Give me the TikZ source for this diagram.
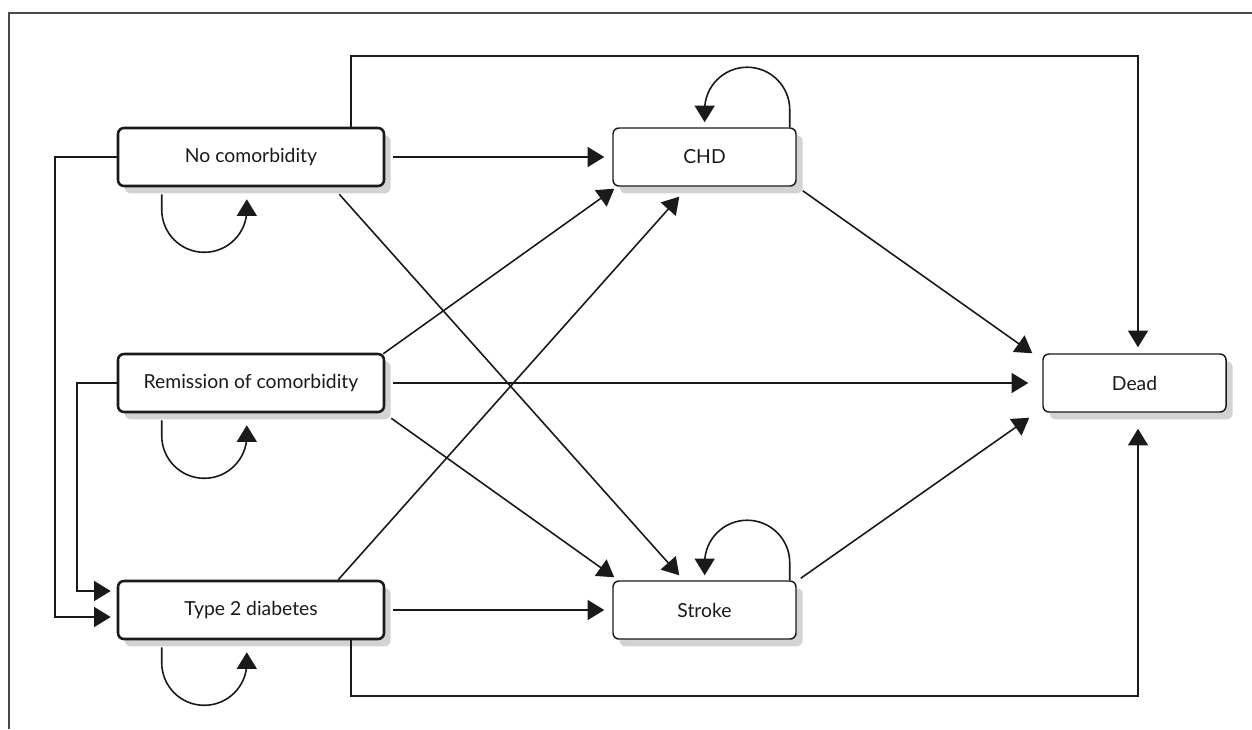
\documentclass[tikz,border=0pt]{standalone}
\usepackage{fontspec}
\setmainfont{Lato}
\usetikzlibrary{arrows.meta,shadows,calc}
\definecolor{ink}{HTML}{1A1A1A}
\definecolor{shade}{HTML}{D3D3D5}
\definecolor{framegray}{HTML}{4A4A4A}
\begin{document}
\begin{tikzpicture}[x=0.75pt,y=-0.75pt,
  state/.style={draw=ink, rounded corners=4.5pt, fill=white, minimum height=43.5pt,
    inner sep=0pt, font=\fontsize{14.5}{17}\selectfont, text=ink,
    drop shadow={shadow xshift=5pt, shadow yshift=-5.5pt, fill=shade, opacity=1}},
  leftstate/.style={state, line width=1.9pt, minimum width=199.5pt},
  rightstate/.style={state, line width=1.1pt, minimum width=137.25pt},
  conn/.style={draw=ink, line width=1.2pt, -{Triangle[length=12.5pt,width=15pt]}}]
\useasboundingbox (0,0) rectangle (1252,729);
\draw[framegray, line width=1.1pt] (1252,13) -- (9,13) -- (9,729);

\node[leftstate] (nc) at (251,157) {No comorbidity};
\node[leftstate] (rem) at (251,383) {Remission of comorbidity};
\node[leftstate] (t2d) at (251,610) {Type 2 diabetes};
\node[rightstate] (chd) at (704.5,157) {CHD};
\node[rightstate] (stroke) at (704.5,610) {Stroke};
\node[rightstate] (dead) at (1134.5,383) {Dead};

% horizontal
\draw[conn, shorten <=6pt, shorten >=6pt] (nc.east) -- (chd.west);
\draw[conn, shorten <=6pt, shorten >=10.5pt] (rem.east) -- (dead.west);
\draw[conn, shorten <=6pt, shorten >=6pt] (t2d.east) -- (stroke.west);

% diagonals
\draw[conn] ($(nc.south east)+(-46,7)$) -- ($(stroke.north west)+(67,-5)$);
\draw[conn] ($(rem.north east)+(-2,1)$) -- ($(chd.south west)+(2,2)$);
\draw[conn] ($(rem.south east)+(6,5)$) -- ($(stroke.north west)+(2,-3)$);
\draw[conn] ($(t2d.north east)+(-47,0)$) -- ($(chd.south west)+(67,10)$);
\draw[conn] ($(chd.south east)+(6,4)$) -- ($(dead.north west)+(-10,0)$);
\draw[conn] ($(stroke.north east)+(4,-2)$) -- ($(dead.south west)+(-13,5)$);

% elbow connectors
\draw[conn] ($(nc.north east)+(-34,0)$) -- ++(0,-71) -| ($(dead.north)+(3.5,-6)$);
\draw[conn] ($(t2d.south east)+(-34,0)$) -- ++(0,56) -| ($(dead.south)+(3.5,16)$);
\draw[conn] (nc.west) -- ++(-62,0) |- ($(t2d.west)+(-6,7)$);
\draw[conn] (rem.west) -- ++(-40,0) |- ($(t2d.west)+(-6,-19)$);

% self loops
\draw[conn] ($(nc.south west)+(45,7)$) -- ++(0,15.5) arc[start angle=180,end angle=360,radius=31.9pt] -- ++(0,-10.5);
\draw[conn] ($(rem.south west)+(45,7)$) -- ++(0,15.5) arc[start angle=180,end angle=360,radius=31.9pt] -- ++(0,-10.5);
\draw[conn] ($(t2d.south west)+(45,7)$) -- ++(0,15.5) arc[start angle=180,end angle=360,radius=31.9pt] -- ++(0,-10.5);
\draw[conn] ($(chd.north east)+(-7,0)$) -- ++(0,-17.5) arc[start angle=0,end angle=180,radius=31.9pt] -- ++(0,12.5);
\draw[conn] ($(stroke.north east)+(-7,0)$) -- ++(0,-17.5) arc[start angle=0,end angle=180,radius=31.9pt] -- ++(0,12.5);
\end{tikzpicture}
\end{document}
